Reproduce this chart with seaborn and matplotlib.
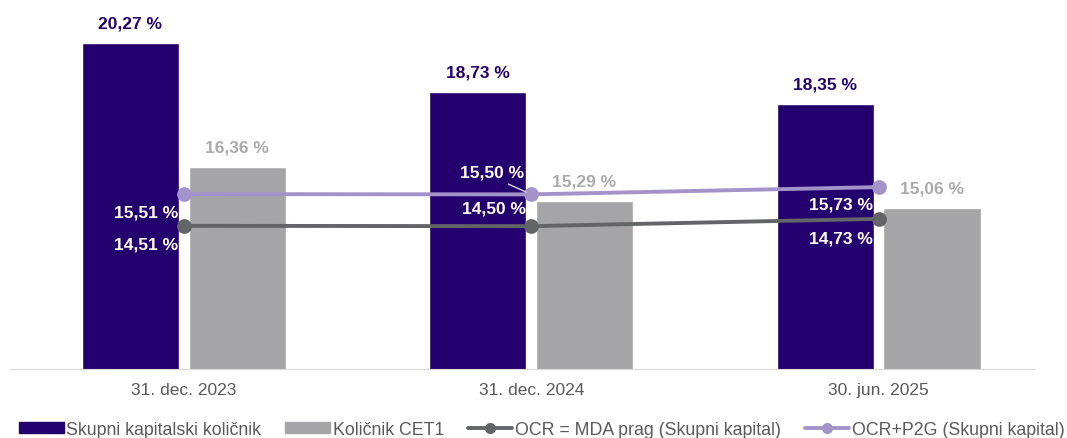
import pandas as pd
import numpy as np
import matplotlib.pyplot as plt
import seaborn as sns
from matplotlib.patches import Patch
from matplotlib.lines import Line2D

dates = ["31. dec. 2023", "31. dec. 2024", "30. jun. 2025"]
skupni = [20.27, 18.73, 18.35]
cet1 = [16.36, 15.29, 15.06]
ocr_mda = [14.51, 14.50, 14.73]
ocr_p2g = [15.51, 15.50, 15.73]

bar_names = ["Skupni kapitalski količnik", "Količnik CET1"]
line_names = ["OCR = MDA prag (Skupni kapital)", "OCR+P2G (Skupni kapital)"]

dark = "#24006F"
grey = "#A5A5A8"
line_dark = "#636466"
line_purple = "#A393C9"


def fmt(v):
    return f"{v:.2f}".replace(".", ",") + " %"


bars = pd.DataFrame({
    "date": dates * 2,
    "value": skupni + cet1,
    "series": [bar_names[0]] * 3 + [bar_names[1]] * 3,
})

sns.set_style("white")
plt.rcParams["font.family"] = ["Liberation Sans", "DejaVu Sans"]

fig = plt.figure(figsize=(10.67, 4.39), dpi=100)
ax = fig.add_axes([0.0094, 0.157, 0.9606, 0.832])

sns.barplot(data=bars, x="date", y="value", hue="series",
            palette=[dark, grey], width=0.615, gap=0.09, saturation=1,
            errorbar=None, legend=False, ax=ax)

sns.pointplot(x=dates, y=ocr_mda, color=line_dark, markers="o",
              markersize=8.5, linewidth=2.8, errorbar=None, ax=ax)
sns.pointplot(x=dates, y=ocr_p2g, color=line_purple, markers="o",
              markersize=8.5, linewidth=2.8, errorbar=None, ax=ax)

ax.set_ylim(10, 21.5)
ax.set_xlim(-0.5, 2.45)

# bar value labels
for i, (a, b) in enumerate(zip(skupni, cet1)):
    ax.annotate(fmt(a), (i - 0.154, a), xytext=(0, 9), textcoords="offset points",
                ha="center", va="bottom", fontsize=12.5, fontweight="bold", color=dark)
    ax.annotate(fmt(b), (i + 0.153, b), xytext=(0, 9), textcoords="offset points",
                ha="center", va="bottom", fontsize=12.5, fontweight="bold", color="#AAAAAC")

# line labels (white, inside dark bars)
offs_p2g = [-13, 16, -12]
offs_mda = [-13, 13, -14]
for i in range(3):
    kw = dict(textcoords="offset points", ha="right", va="center",
              fontsize=12.5, fontweight="bold", color="white")
    if i == 1:
        ax.annotate(fmt(ocr_p2g[i]), (i, ocr_p2g[i]), xytext=(-5, offs_p2g[i]),
                    arrowprops=dict(arrowstyle="-", color="#D9D9D9", lw=1,
                                    shrinkA=2, shrinkB=4,
                                    relpos=(0.6, 0.0)), **kw)
    else:
        ax.annotate(fmt(ocr_p2g[i]), (i, ocr_p2g[i]), xytext=(-4, offs_p2g[i]), **kw)
    ax.annotate(fmt(ocr_mda[i]), (i, ocr_mda[i]), xytext=(-4, offs_mda[i]), **kw)

sns.despine(ax=ax, left=True)
ax.spines["bottom"].set_color("#D9D9D9")
ax.set_yticks([])
ax.set_xlabel("")
ax.set_ylabel("")
ax.tick_params(axis="x", length=0, pad=9, labelsize=12.5, labelcolor="#595959")

handles = [
    Patch(facecolor=dark, edgecolor=dark),
    Patch(facecolor=grey, edgecolor=grey),
    Line2D([0], [0], color=line_dark, lw=2.8, marker="o", markersize=7),
    Line2D([0], [0], color=line_purple, lw=2.8, marker="o", markersize=7),
]
fig.legend(handles, bar_names + line_names, loc="lower center", ncol=4,
           bbox_to_anchor=(0.508, -0.036), frameon=False, fontsize=12.8,
           handlelength=2.5, handleheight=0.6, handletextpad=0.15,
           columnspacing=1.35, labelcolor="#595959")

fig.savefig("out.png", dpi=100)
